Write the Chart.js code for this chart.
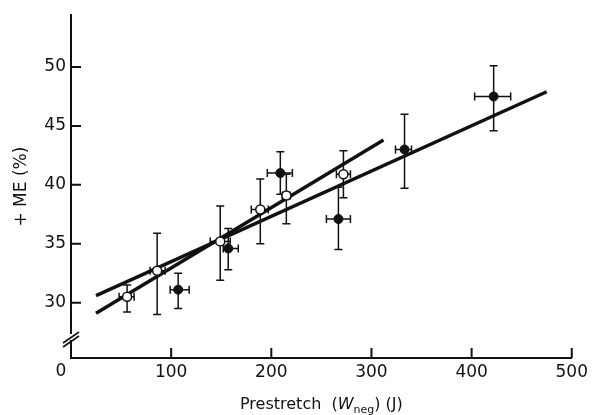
<!DOCTYPE html>
<html>
<head>
<meta charset="utf-8">
<script src="https://cdn.jsdelivr.net/npm/chart.js@4.4.0/dist/chart.umd.min.js"></script>
<style>
  html, body { margin: 0; padding: 0; background: #fff; }
</style>
</head>
<body>
<canvas id="myChart" width="592" height="415"></canvas>
<script>
/* 데이터: open circles */
const openX   = [56, 86, 149, 189, 215, 272];
const openY   = [30.5, 32.7, 35.2, 37.9, 39.1, 40.9];
const openXLo = [48, 79, 139, 180, 211, 265];
const openXHi = [63, 94, 159, 197, 219, 279];
const openYLo = [29.2, 29.0, 31.9, 35.0, 36.7, 38.9];
const openYHi = [31.5, 35.9, 38.2, 40.5, 40.9, 42.9];

/* filled circles */
const fillX   = [107, 157, 209, 267, 333, 422];
const fillY   = [31.1, 34.6, 41.0, 37.1, 43.0, 47.5];
const fillXLo = [99, 152, 196, 255, 324, 403];
const fillXHi = [118, 167, 221, 279, 340, 439];
const fillYLo = [29.5, 32.8, 39.2, 34.5, 39.7, 44.6];
const fillYHi = [32.5, 36.3, 42.8, 39.8, 46.0, 50.1];

/* regression lines (end points) */
const openLineX = [25, 312];
const openLineY = [29.1, 43.8];
const fillLineX = [25, 475];
const fillLineY = [30.6, 47.9];

const xTicks = [0, 100, 200, 300, 400, 500];
const yTicks = [30, 35, 40, 45, 50];

const FONT = '"DejaVu Sans", "Liberation Sans", sans-serif';

function pts(xs, ys) {
  return xs.map((x, i) => ({ x: x, y: ys[i] }));
}

function drawErrors(ctx, sx, sy, xs, ys, xlo, xhi, ylo, yhi) {
  ctx.save();
  ctx.strokeStyle = '#111';
  ctx.lineWidth = 1.5;
  for (let i = 0; i < xs.length; i++) {
    const px = sx.getPixelForValue(xs[i]);
    const py = sy.getPixelForValue(ys[i]);
    const t = sy.getPixelForValue(yhi[i]);
    const b = sy.getPixelForValue(ylo[i]);
    const l = sx.getPixelForValue(xlo[i]);
    const r = sx.getPixelForValue(xhi[i]);
    ctx.beginPath();
    ctx.moveTo(px, t); ctx.lineTo(px, b);
    ctx.moveTo(px - 4, t); ctx.lineTo(px + 4, t);
    ctx.moveTo(px - 4, b); ctx.lineTo(px + 4, b);
    ctx.moveTo(l, py); ctx.lineTo(r, py);
    ctx.moveTo(l, py - 4); ctx.lineTo(l, py + 4);
    ctx.moveTo(r, py - 4); ctx.lineTo(r, py + 4);
    ctx.stroke();
  }
  ctx.restore();
}

const decor = {
  id: 'decor',
  beforeDatasetDraw(chart, args) {
    const sx = chart.scales.x, sy = chart.scales.y, ctx = chart.ctx;
    if (args.index === 0) drawErrors(ctx, sx, sy, openX, openY, openXLo, openXHi, openYLo, openYHi);
    if (args.index === 1) drawErrors(ctx, sx, sy, fillX, fillY, fillXLo, fillXHi, fillYLo, fillYHi);
  },
  afterDraw(chart) {
    const ctx = chart.ctx, sx = chart.scales.x, sy = chart.scales.y;
    const a = chart.chartArea;
    ctx.save();
    ctx.strokeStyle = '#111';
    ctx.lineWidth = 2;
    // ticks pointing inward
    ctx.beginPath();
    xTicks.forEach(v => {
      if (v === 0) return;
      const p = sx.getPixelForValue(v);
      ctx.moveTo(p, a.bottom); ctx.lineTo(p, a.bottom - 10);
    });
    yTicks.forEach(v => {
      const p = sy.getPixelForValue(v);
      ctx.moveTo(a.left, p); ctx.lineTo(a.left + 10, p);
    });
    ctx.stroke();

    // axis break
    ctx.fillStyle = '#fff';
    ctx.fillRect(a.left - 3, a.bottom - 24, 6, 6);
    ctx.lineWidth = 1.6;
    ctx.beginPath();
    ctx.moveTo(a.left - 8, a.bottom - 15); ctx.lineTo(a.left + 8, a.bottom - 26);
    ctx.moveTo(a.left - 8, a.bottom - 11); ctx.lineTo(a.left + 8, a.bottom - 22);
    ctx.stroke();

    // origin label
    ctx.fillStyle = '#111';
    ctx.font = '17px ' + FONT;
    ctx.textAlign = 'center';
    ctx.textBaseline = 'middle';
    ctx.fillText('0', sx.getPixelForValue(0) - 10, a.bottom + 14);

    // x title: Prestretch (W_neg) (J)
    ctx.textAlign = 'left';
    ctx.textBaseline = 'alphabetic';
    let x = 240;
    const y = 409;
    ctx.font = '16px ' + FONT;
    ctx.fillText('Prestretch  (', x, y);
    x += ctx.measureText('Prestretch  (').width;
    ctx.font = 'italic 16px ' + FONT;
    ctx.fillText('W', x, y);
    x += ctx.measureText('W').width;
    ctx.font = '11px ' + FONT;
    ctx.fillText('neg', x, y + 4);
    x += ctx.measureText('neg').width;
    ctx.font = '16px ' + FONT;
    ctx.fillText(') (J)', x, y);
    ctx.restore();
  }
};

const ctx = document.getElementById('myChart');
const config = {
  type: 'scatter',
  data: {
    datasets: [
      {
        data: pts(openX, openY),
        pointRadius: 4.5,
        pointBackgroundColor: '#fff',
        pointBorderColor: '#111',
        pointBorderWidth: 1.5,
        order: 0
      },
      {
        data: pts(fillX, fillY),
        pointRadius: 4.5,
        pointBackgroundColor: '#111',
        pointBorderColor: '#111',
        pointBorderWidth: 1,
        order: 0
      },
      {
        type: 'line',
        data: pts(openLineX, openLineY),
        showLine: true,
        borderColor: '#111',
        borderWidth: 3.5,
        pointRadius: 0,
        order: 1
      },
      {
        type: 'line',
        data: pts(fillLineX, fillLineY),
        showLine: true,
        borderColor: '#111',
        borderWidth: 3.5,
        pointRadius: 0,
        order: 1
      }
    ]
  },
  options: {
    responsive: false,
    animation: false,
    layout: { padding: { top: 10, right: 20, left: 0, bottom: 0 } },
    plugins: { legend: { display: false }, tooltip: { enabled: false } },
    scales: {
      x: {
        type: 'linear',
        min: 0,
        max: 500,
        afterFit: s => { s.height = 57; },
        afterBuildTicks: s => { s.ticks = xTicks.map(v => ({ value: v })); },
        grid: { display: false, drawTicks: false },
        border: { display: true, color: '#111', width: 2 },
        ticks: {
          padding: 4,
          color: '#111',
          font: { family: FONT, size: 17 },
          callback: v => (v === 0 ? '' : v)
        }
      },
      y: {
        type: 'linear',
        min: 25.3,
        max: 54.4,
        afterFit: s => { s.width = 71; },
        afterBuildTicks: s => { s.ticks = yTicks.map(v => ({ value: v })); },
        grid: { display: false, drawTicks: false },
        border: { display: true, color: '#111', width: 2 },
        ticks: {
          padding: 5,
          color: '#111',
          font: { family: FONT, size: 17 }
        },
        title: {
          display: true,
          text: '+ ME (%)',
          color: '#111',
          padding: { top: 11, bottom: 0 },
          font: { family: FONT, size: 17 }
        }
      }
    }
  },
  plugins: [decor]
};

const myChart = new Chart(ctx, config);
</script>
</body>
</html>
